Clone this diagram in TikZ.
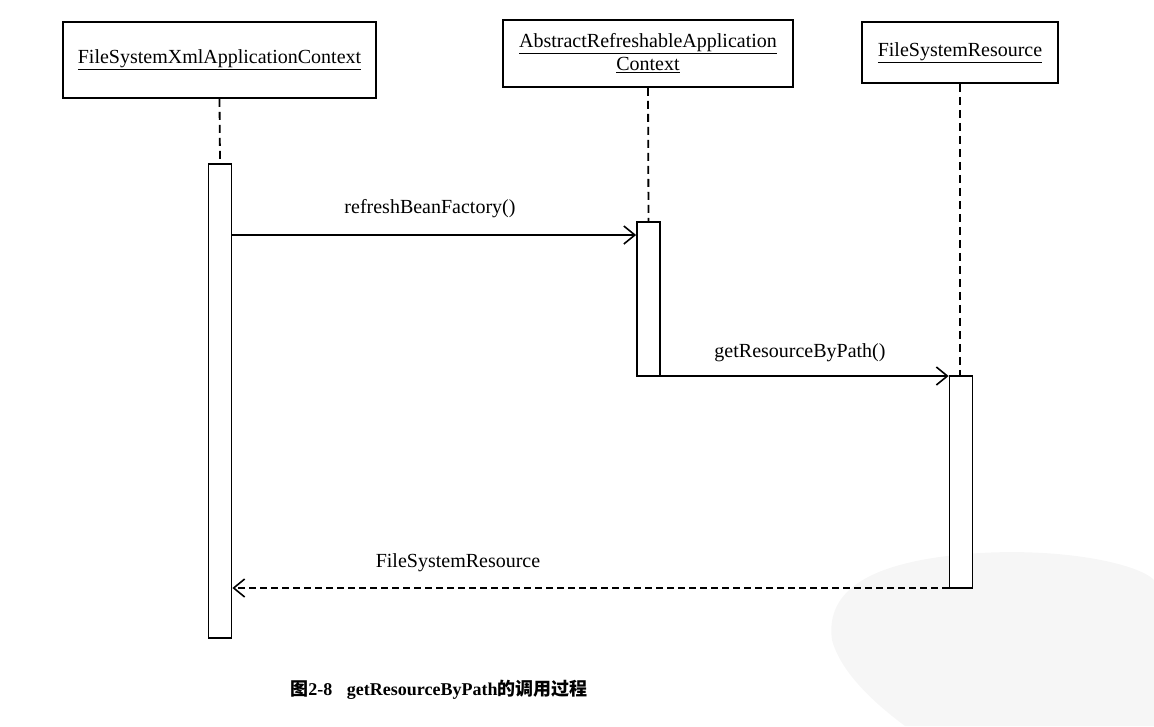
\documentclass[tikz,border=0pt]{standalone}
\usepackage{fontspec}
\setmainfont{Liberation Serif}
\newfontfamily\cjk{Noto Sans CJK SC}
\usetikzlibrary{arrows.meta}
\begin{document}
\begin{tikzpicture}[x=1pt,y=-1pt,
  objbox/.style={draw, line width=1.8pt, inner sep=0pt, align=center,
    font=\fontsize{20}{23}\selectfont},
  actbox/.style={draw, line width=1.8pt, fill=white, minimum width=23pt, inner sep=0pt},
  lifeline/.style={line width=1.8pt, dash pattern=on 8pt off 5pt},
  msg/.style={line width=1.6pt, -{Straight Barb[length=11pt,width=18pt,line width=1.6pt]}},
  ret/.style={msg, dash pattern=on 7pt off 4pt},
  lbl/.style={font=\fontsize{20}{24}\selectfont, inner sep=0pt}]
\useasboundingbox (0,0) rectangle (1154,726);
% faint watermark blob
\fill[gray!7] (832,640) .. controls (825,590) and (870,560) .. (980,553)
  .. controls (1070,548) and (1140,565) .. (1154,580) -- (1154,726) -- (905,726)
  .. controls (870,700) and (840,670) .. (832,640) -- cycle;
% objects
\node[objbox, minimum width=313pt, minimum height=76pt] (o1) at (219.5,60)
  {\underline{FileSystemXmlApplicationContext}};
\node[objbox, minimum width=290pt, minimum height=67pt] (o2) at (648,53.5)
  {\underline{AbstractRefreshableApplication}\\\underline{Context}};
\node[objbox, minimum width=196pt, minimum height=61pt] (o3) at (960,52.5)
  {\underline{FileSystemResource}};
% activations
\node[actbox, minimum height=474pt] (a1) at (220,401) {};
\node[actbox, minimum height=154pt] (a2) at (648.5,299) {};
\node[actbox, minimum height=212pt] (a3) at (961,482) {};
% lifelines
\draw[lifeline] (o1.south) -- (a1.north);
\draw[lifeline] (o2.south) -- (a2.north);
\draw[lifeline] (o3.south) -- (o3.south |- a3.north);
% messages
\coordinate (m1) at (0,235);
\coordinate (m2) at (0,376);
\coordinate (m3) at (0,588);
\draw[msg] (a1.east |- m1) -- (a2.west |- m1);
\node[lbl] (l1) at (430,209) {refreshBeanFactory()};
\draw[msg] (a2.east |- m2) -- (a3.west |- m2);
\node[lbl] (l2) at (800,353) {getResourceByPath()};
\draw[ret] (a3.west |- m3) -- (a1.east |- m3);
\node[lbl] (l3) at (458,563) {FileSystemResource};
% caption
\node[font=\fontsize{18}{22}\selectfont\bfseries, inner sep=0pt] (cap) at (439,690)
  {{\cjk\bfseries 图}2-8\hspace{0.8em}getResourceByPath{\cjk\bfseries 的调用过程}};
\end{tikzpicture}
\end{document}
